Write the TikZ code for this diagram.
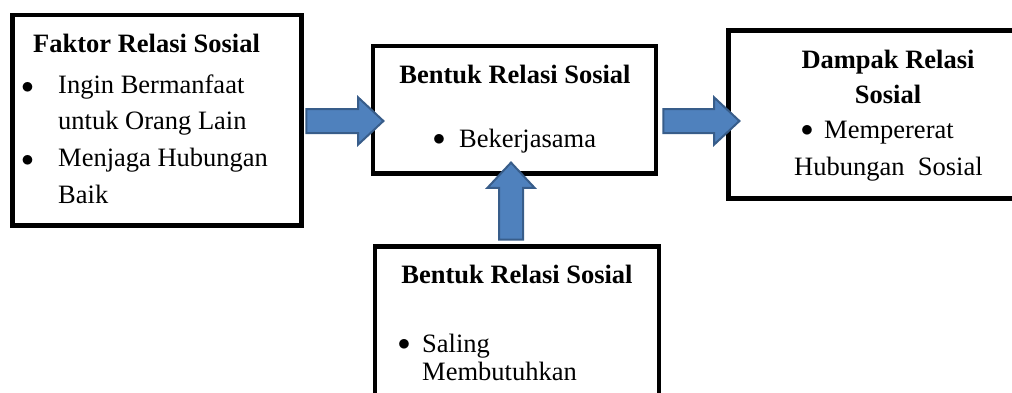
\documentclass[tikz,border=0pt]{standalone}
\usepackage{fontspec}
\setmainfont{Liberation Serif}
\usetikzlibrary{shapes.arrows}
\definecolor{arfill}{HTML}{4F81BD}
\definecolor{arline}{HTML}{385D8A}

\begin{document}
\begin{tikzpicture}[x=1pt, y=-1pt]
	\tikzset{bx/.style={draw=black, line width=4.5pt, rectangle, inner sep=0pt},
	ar/.style={single arrow, draw=arline, fill=arfill, line width=2pt, inner xsep=0pt, inner ysep=11pt, single arrow head extend=11.5pt, single arrow tip angle=86, minimum height=77pt, sloped, allow upside down},
	txt/.style={inner sep=0pt, font=\fontsize{26.5}{32}\selectfont},
	hd/.style={inner sep=0pt, font=\fontsize{26.5}{32}\selectfont\bfseries}};
	\useasboundingbox (0,0) rectangle (1012,392);
	\clip (0,0) rectangle (1012,392);

	% boxes
	\node[bx, minimum width=289pt, minimum height=210.5pt] (fk) at (157,120.25) {};
	\node[bx, minimum width=283pt, minimum height=127.5pt] (bk) at (514.5,109.75) {};
	\node[bx, minimum width=291.5pt, minimum height=168pt] (dp) at (874.25,114.5) {};
	\node[bx, minimum width=284pt, minimum height=148.5pt] (sl) at (517,320.75) {};

	% texts
	\node[hd, anchor=base west] (fkh) at (33,52) {Faktor Relasi Sosial};
	\node[txt, anchor=base] (fkb1) at (27.5,93) {$\bullet$};
	\node[txt, anchor=base west] (fk1) at (58,93) {Ingin Bermanfaat};
	\node[txt, anchor=base west] (fk2) at (58,129) {untuk Orang Lain};
	\node[txt, anchor=base] (fkb2) at (27.5,166) {$\bullet$};
	\node[txt, anchor=base west] (fk3) at (58,166) {Menjaga Hubungan};
	\node[txt, anchor=base west] (fk4) at (58,203) {Baik};

	\node[hd, anchor=base] (bkh) at (515,83) {Bentuk Relasi Sosial};
	\node[txt, anchor=base] (bkb) at (439,145) {$\bullet$};
	\node[txt, anchor=base west] (bk1) at (459,147) {Bekerjasama};

	\node[hd, anchor=base] (dph1) at (888,68) {Dampak Relasi};
	\node[hd, anchor=base] (dph2) at (888,103) {Sosial};
	\node[txt, anchor=base] (dpb) at (807,136) {$\bullet$};
	\node[txt, anchor=base west] (dp1) at (824,138) {Mempererat};
	\node[txt, anchor=base west] (dp2) at (794,175) {Hubungan\ \ Sosial};

	\node[hd, anchor=base] (slh) at (517,283) {Bentuk Relasi Sosial};
	\node[txt, anchor=base] (slb) at (404,350) {$\bullet$};
	\node[txt, anchor=base west] (sl1) at (422,352) {Saling};
	\node[txt, anchor=base west] (sl2) at (422,380) {Membutuhkan};

	% arrows
	\coordinate (a1) at (300,121);
	\coordinate (a2) at (377,121);
	\coordinate (b1) at (657,121);
	\coordinate (b2) at (733,121);
	\coordinate (c1) at (511,246);
	\coordinate (c2) at (511,169);
	\path (a1) -- node[ar] (fkbk) {} (a2);
	\path (b1) -- node[ar, minimum height=76pt] (bkdp) {} (b2);
	\path (c1) -- node[ar] (slbk) {} (c2);
\end{tikzpicture}
\end{document}
